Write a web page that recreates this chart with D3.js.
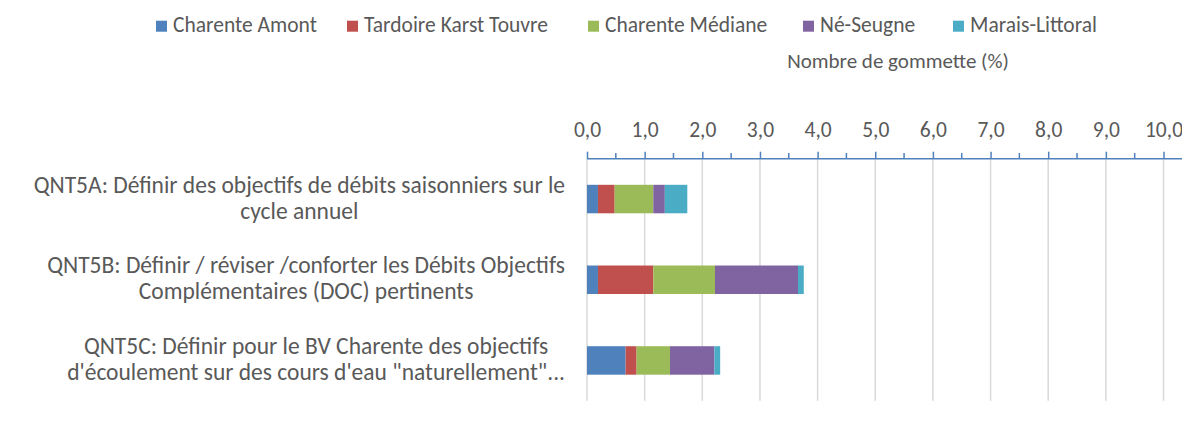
<!DOCTYPE html>
<html><head><meta charset="utf-8">
<script src="https://cdn.jsdelivr.net/npm/d3@7"></script>
<style>
html,body{margin:0;padding:0;background:#fff;}
svg{display:block;}
text{font-family:Carlito,Lato,"Open Sans",sans-serif;fill:#595959;}
</style></head>
<body><svg id="c" width="1182" height="427"></svg>
<script>
const categories = [
  ["QNT5A: Définir des objectifs de débits saisonniers sur le", "cycle annuel"],
  ["QNT5B: Définir / réviser /conforter les Débits Objectifs", "Complémentaires (DOC) pertinents"],
  ["QNT5C: Définir pour le BV Charente des objectifs", "d'écoulement sur des cours d'eau \"naturellement\"..."]
];
const seriesNames = ["Charente Amont", "Tardoire Karst Touvre", "Charente Médiane", "Né-Seugne", "Marais-Littoral"];
const charenteAmont = [0.19, 0.19, 0.67];
const tardoire = [0.29, 0.96, 0.19];
const charenteMediane = [0.67, 1.07, 0.58];
const neSeugne = [0.20, 1.44, 0.77];
const maraisLittoral = [0.39, 0.10, 0.10];
const colors = ["#4F81BD", "#C0504D", "#9BBB59", "#8064A2", "#4BACC6"];
const tickValues = [0,1,2,3,4,5,6,7,8,9,10];
const axisTitle = "Nombre de gommette (%)";

const FONT = "Carlito,Lato,'Open Sans',sans-serif";
const svg = d3.select("#c");
const seriesVals = [charenteAmont, tardoire, charenteMediane, neSeugne, maraisLittoral];
const rows = categories.map((c, i) => {
  const r = {key: i};
  seriesNames.forEach((s, j) => r[s] = seriesVals[j][i]);
  return r;
});
const stack = d3.stack().keys(seriesNames)(rows);

const x = d3.scaleLinear().domain([0, 10]).range([587, 1163.5]);
const y = d3.scaleBand().domain(d3.range(categories.length)).range([158.7, 400.8])
  .paddingInner(0.647).paddingOuter(0.3235);

// gridlines
svg.append("g").selectAll("line").data(tickValues).join("line")
  .attr("x1", d => x(d)).attr("x2", d => x(d))
  .attr("y1", 158.7).attr("y2", 400.8)
  .attr("stroke", "#D9D9D9").attr("stroke-width", 1.5);

// bars
svg.append("g").selectAll("g").data(stack).join("g")
  .attr("fill", (d, i) => colors[i])
  .selectAll("rect").data(d => d).join("rect")
  .attr("x", d => x(d[0])).attr("width", d => x(d[1]) - x(d[0]))
  .attr("y", (d, i) => y(i)).attr("height", y.bandwidth());

// axis
const axis = d3.axisTop(x).tickValues(tickValues).tickSize(7)
  .tickFormat(d => d3.format(".1f")(d).replace(".", ","));
const ag = svg.append("g").attr("transform", "translate(0,158.7)").call(axis);
ag.select(".domain").remove();
ag.append("line").attr("x1", 587).attr("x2", 1182).attr("stroke", "#4F81BD").attr("stroke-width", 1.5);
ag.selectAll(".tick line").attr("stroke", "#4F81BD").attr("stroke-width", 1.5);
ag.selectAll(".tick text").attr("fill", "#595959").attr("font-size", 21.5).attr("y", -22)
  .style("font-family", FONT);
// minor ticks
svg.append("g").selectAll("line").data(tickValues.slice(0, -1).map(d => d + 0.5)).join("line")
  .attr("x1", d => x(d)).attr("x2", d => x(d)).attr("y1", 153).attr("y2", 158.7)
  .attr("stroke", "#4F81BD").attr("stroke-width", 1.5);

// category labels
const lg = svg.append("g");
categories.forEach((lines, i) => {
  const cy = y(i) + y.bandwidth() / 2;
  const g = lg.append("g");
  const ts = lines.map((t, k) => g.append("text").text(t).attr("font-size", 23.5)
    .attr("text-anchor", "middle").attr("y", cy + (k - (lines.length - 1) / 2) * 26 + 6.5));
  const w = d3.max(ts, t => t.node().getComputedTextLength());
  ts.forEach(t => t.attr("x", 565 - w / 2));
});

// legend
const legX = [156, 347, 588, 803, 953];
const leg = svg.append("g");
seriesNames.forEach((s, i) => {
  leg.append("rect").attr("x", legX[i]).attr("y", 20.7).attr("width", 11).attr("height", 11).attr("fill", colors[i]);
  leg.append("text").attr("x", legX[i] + 17).attr("y", 31.7).attr("font-size", 21.5).text(s);
});

svg.append("text").attr("x", 898).attr("y", 67.5).attr("text-anchor", "middle")
  .attr("font-size", 21).text(axisTitle);
</script></body></html>
